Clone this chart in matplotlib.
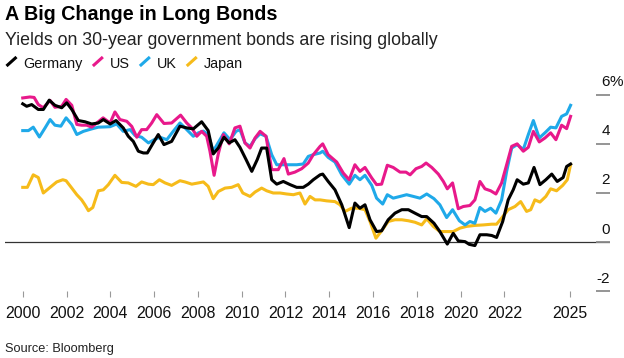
import matplotlib
matplotlib.use('Agg')
import matplotlib.pyplot as plt
from matplotlib.lines import Line2D

plt.rcParams['font.family'] = ['Liberation Sans', 'DejaVu Sans']

# ---------- data (30-year government bond yields, %)
names = ['Germany', 'US', 'UK', 'Japan']
colors = ['#000000', '#e8198b', '#1fa9e9', '#f6bb1a']

germany_t = [2000.00, 2000.18, 2000.41, 2000.71, 2000.94, 2001.21, 2001.47, 2001.78, 2002.01, 2002.24,
             2002.54, 2002.84, 2003.15, 2003.45, 2003.68, 2003.99, 2004.26, 2004.59, 2004.82, 2005.05,
             2005.28, 2005.51, 2005.69, 2005.96, 2006.19, 2006.45, 2006.80, 2007.18, 2007.49, 2007.79,
             2008.17, 2008.47, 2008.70, 2008.93, 2009.19, 2009.43, 2009.69, 2009.92, 2010.20, 2010.46,
             2010.71, 2010.91, 2011.14, 2011.37, 2011.60, 2011.90, 2012.21, 2012.51, 2012.81, 2013.04,
             2013.27, 2013.58, 2013.70, 2013.95, 2014.26, 2014.57, 2014.91, 2015.17, 2015.40, 2015.63,
             2015.86, 2016.16, 2016.39, 2016.69, 2017.00, 2017.31, 2017.61, 2017.91, 2018.22, 2018.45,
             2018.78, 2019.05, 2019.39, 2019.66, 2019.89, 2020.20, 2020.39, 2020.65, 2020.88, 2021.19,
             2021.42, 2021.64, 2021.92, 2022.17, 2022.40, 2022.58, 2022.86, 2023.09, 2023.35, 2023.62,
             2023.89, 2024.16, 2024.41, 2024.68, 2024.84, 2025.02]
germany_v = [5.62, 5.52, 5.59, 5.39, 5.39, 5.77, 5.56, 5.46, 5.66, 5.39,
             4.94, 4.89, 4.80, 4.84, 4.98, 4.80, 4.94, 4.64, 4.30, 4.09,
             3.69, 3.62, 3.62, 4.03, 4.37, 3.96, 4.09, 4.71, 4.64, 4.60,
             4.89, 4.53, 3.58, 3.82, 4.26, 4.03, 4.16, 3.85, 3.35, 2.87,
             3.35, 3.82, 3.82, 2.53, 2.35, 2.46, 2.33, 2.22, 2.22, 2.35,
             2.53, 2.73, 2.76, 2.46, 2.12, 1.51, 0.58, 1.58, 1.37, 1.51,
             0.90, 0.42, 0.45, 0.90, 1.17, 1.31, 1.31, 1.17, 1.03, 1.03,
             0.76, 0.42, -0.09, 0.35, 0.04, 0.01, -0.10, -0.15, 0.29, 0.29,
             0.26, 0.18, 0.83, 1.71, 2.12, 2.53, 2.35, 2.40, 3.03, 2.33,
             2.53, 2.76, 2.46, 2.62, 3.07, 3.17]

us_t = [2000.00, 2000.33, 2000.52, 2000.71, 2000.94, 2001.25, 2001.47, 2001.78, 2001.98, 2002.24,
        2002.47, 2002.69, 2002.92, 2003.15, 2003.38, 2003.67, 2003.99, 2004.21, 2004.44, 2004.75,
        2004.98, 2005.21, 2005.43, 2005.66, 2005.89, 2006.12, 2006.45, 2006.80, 2007.21, 2007.49,
        2007.72, 2007.95, 2008.17, 2008.40, 2008.55, 2008.74, 2008.93, 2009.16, 2009.43, 2009.69,
        2009.92, 2010.15, 2010.38, 2010.61, 2010.84, 2011.11, 2011.37, 2011.67, 2011.93, 2012.13,
        2012.43, 2012.74, 2013.04, 2013.27, 2013.58, 2013.70, 2013.95, 2014.34, 2014.64, 2014.91,
        2015.17, 2015.40, 2015.63, 2015.94, 2016.16, 2016.39, 2016.65, 2016.92, 2017.23, 2017.50,
        2017.69, 2017.96, 2018.22, 2018.42, 2018.68, 2018.98, 2019.21, 2019.39, 2019.63, 2019.89,
        2020.12, 2020.42, 2020.65, 2020.88, 2021.11, 2021.37, 2021.61, 2021.87, 2022.10, 2022.33,
        2022.58, 2022.86, 2023.09, 2023.32, 2023.59, 2023.85, 2024.11, 2024.35, 2024.61, 2024.84,
        2025.02]
us_v = [5.86, 5.90, 5.88, 5.59, 5.46, 5.76, 5.48, 5.52, 5.80, 5.56,
        4.78, 4.75, 4.75, 4.67, 4.84, 5.05, 4.84, 5.29, 4.98, 4.91,
        4.70, 4.26, 4.57, 4.57, 4.84, 5.18, 4.82, 4.84, 5.16, 4.84,
        4.64, 4.30, 4.50, 4.30, 3.69, 2.71, 3.58, 4.37, 3.99, 4.64,
        4.71, 4.03, 3.82, 4.23, 4.50, 4.30, 2.94, 2.94, 3.39, 2.76,
        2.84, 2.98, 3.21, 3.55, 3.89, 3.99, 3.55, 3.25, 2.80, 2.53,
        3.14, 2.87, 3.03, 2.60, 2.33, 2.35, 3.12, 3.03, 2.84, 2.84,
        2.73, 2.98, 3.07, 3.21, 3.03, 2.76, 2.46, 2.16, 2.40, 1.35,
        1.44, 1.48, 1.71, 2.46, 2.16, 2.08, 1.95, 2.40, 3.14, 3.89,
        3.99, 3.69, 3.85, 4.50, 4.07, 4.23, 4.44, 4.16, 4.75, 4.61,
        5.11]

uk_t = [2000.00, 2000.26, 2000.48, 2000.76, 2001.02, 2001.25, 2001.47, 2001.74, 2001.98, 2002.24,
        2002.47, 2002.77, 2003.15, 2003.45, 2003.76, 2003.99, 2004.29, 2004.59, 2004.90, 2005.13,
        2005.43, 2005.74, 2006.00, 2006.27, 2006.58, 2006.88, 2007.18, 2007.49, 2007.79, 2008.02,
        2008.25, 2008.47, 2008.70, 2008.98, 2009.19, 2009.47, 2009.74, 2009.92, 2010.15, 2010.38,
        2010.61, 2010.84, 2011.11, 2011.37, 2011.60, 2011.90, 2012.13, 2012.51, 2012.81, 2013.04,
        2013.27, 2013.58, 2013.70, 2013.95, 2014.26, 2014.57, 2014.91, 2015.17, 2015.40, 2015.63,
        2015.94, 2016.16, 2016.44, 2016.65, 2016.92, 2017.23, 2017.53, 2017.84, 2018.14, 2018.45,
        2018.78, 2019.05, 2019.36, 2019.63, 2019.94, 2020.20, 2020.42, 2020.65, 2020.88, 2021.11,
        2021.37, 2021.61, 2021.87, 2022.10, 2022.33, 2022.58, 2022.86, 2023.09, 2023.32, 2023.59,
        2023.85, 2024.11, 2024.35, 2024.61, 2024.84, 2025.02]
uk_v = [4.53, 4.53, 4.67, 4.27, 4.64, 4.98, 4.75, 4.71, 5.05, 4.78,
        4.37, 4.50, 4.60, 4.67, 4.68, 4.69, 4.80, 4.50, 4.57, 4.33,
        4.26, 4.03, 4.16, 4.26, 4.16, 4.51, 4.84, 4.57, 4.30, 4.44,
        4.51, 4.37, 3.69, 4.12, 4.44, 4.16, 4.50, 4.57, 4.03, 3.89,
        4.20, 4.40, 4.30, 3.55, 3.14, 3.14, 3.14, 3.14, 3.17, 3.48,
        3.55, 3.62, 3.69, 3.44, 3.25, 2.73, 2.35, 2.71, 2.53, 2.71,
        2.30, 1.78, 1.54, 1.92, 1.78, 1.85, 1.92, 1.85, 1.78, 1.95,
        1.76, 1.51, 0.99, 1.31, 0.86, 0.69, 0.83, 0.76, 1.40, 1.24,
        1.37, 1.17, 1.71, 2.87, 3.82, 3.96, 3.76, 4.37, 4.94, 4.23,
        4.44, 4.67, 4.64, 5.11, 5.21, 5.56]

japan_t = [2000.00, 2000.21, 2000.48, 2000.71, 2000.94, 2001.21, 2001.55, 2001.83, 2001.98, 2002.24,
           2002.47, 2002.69, 2002.84, 2003.00, 2003.20, 2003.45, 2003.68, 2003.91, 2004.21, 2004.52,
           2004.82, 2005.17, 2005.43, 2005.74, 2005.96, 2006.24, 2006.50, 2006.80, 2007.18, 2007.41,
           2007.72, 2008.02, 2008.25, 2008.47, 2008.70, 2008.93, 2009.24, 2009.54, 2009.84, 2010.05,
           2010.38, 2010.61, 2010.91, 2011.14, 2011.44, 2011.75, 2012.05, 2012.36, 2012.66, 2012.89,
           2013.12, 2013.35, 2013.58, 2013.88, 2014.26, 2014.49, 2014.72, 2015.02, 2015.32, 2015.63,
           2015.86, 2016.13, 2016.39, 2016.69, 2017.00, 2017.31, 2017.61, 2017.91, 2018.22, 2018.45,
           2018.75, 2019.05, 2019.36, 2019.66, 2019.97, 2020.27, 2020.65, 2021.03, 2021.42, 2021.64,
           2021.87, 2022.17, 2022.48, 2022.74, 2023.01, 2023.20, 2023.39, 2023.62, 2023.89, 2024.11,
           2024.38, 2024.66, 2024.87, 2025.02]
japan_v = [2.22, 2.22, 2.73, 2.62, 1.99, 2.19, 2.44, 2.53, 2.49, 2.19,
           1.92, 1.71, 1.51, 1.27, 1.40, 2.08, 2.12, 2.33, 2.71, 2.42,
           2.40, 2.26, 2.44, 2.35, 2.33, 2.53, 2.40, 2.30, 2.49, 2.44,
           2.35, 2.40, 2.44, 2.26, 1.76, 2.05, 2.19, 2.22, 2.33, 1.99,
           1.85, 2.03, 2.19, 2.08, 1.99, 1.99, 1.95, 1.92, 1.99, 1.54,
           1.85, 1.71, 1.71, 1.67, 1.64, 1.51, 1.24, 1.37, 1.37, 1.31,
           0.83, 0.15, 0.45, 0.83, 0.90, 0.90, 0.86, 0.80, 0.69, 0.94,
           0.63, 0.42, 0.42, 0.42, 0.56, 0.63, 0.67, 0.69, 0.72, 0.72,
           0.97, 1.31, 1.44, 1.64, 1.24, 1.31, 1.71, 1.62, 1.85, 2.16,
           2.08, 2.30, 2.53, 3.14]

xtick_years = [2000, 2002, 2004, 2006, 2008, 2010, 2012, 2014, 2016, 2018, 2020, 2022, 2025]
ytick_vals = [-2, 0, 2, 4, 6]

series = [(germany_t, germany_v), (us_t, us_v), (uk_t, uk_v), (japan_t, japan_v)]

# ---------- figure
W, H = 624, 358
fig = plt.figure(figsize=(W / 100, H / 100), dpi=100)
fig.patch.set_facecolor('white')

def fx(px):
    return px / W

def fy(py):
    return 1 - py / H

ax = fig.add_axes([fx(5), fy(291), fx(605), 196.5 / H])
ax.set_xlim(1999.19, 2026.82)
ax.set_ylim(-2, 6)
for s in ax.spines.values():
    s.set_visible(False)

# zero line
ax.axhline(0, color='#333333', lw=0.9, zorder=1)

# lines, Germany on top
for i in reversed(range(len(names))):
    t, v = series[i]
    ax.plot(t, v, color=colors[i], lw=2.2, solid_joinstyle='round', zorder=3 + (3 - i), clip_on=False)

# x axis
ax.set_xticks(xtick_years)
ax.set_xticklabels([str(y) for y in xtick_years])
ax.tick_params(axis='x', direction='out', length=4, width=0.8, color='#999999',
               pad=6.5, labelsize=11.4, labelcolor='#111111')

# y axis: dashes on the right, labels sitting above them
ax.yaxis.tick_right()
ax.set_yticks(ytick_vals)
ax.tick_params(axis='y', direction='in', length=10, width=1.3, color='#8c8c8c',
               labelright=False, labelleft=False, right=True, left=False)
for v in ytick_vals:
    ax.annotate(str(v), xy=(1, v), xycoords=('axes fraction', 'data'), xytext=(0, 6),
                textcoords='offset points', ha='right', va='baseline', fontsize=11, color='#111111')
ax.annotate('%', xy=(1, ytick_vals[-1]), xycoords=('axes fraction', 'data'), xytext=(0, 6),
            textcoords='offset points', ha='left', va='baseline', fontsize=11, color='#111111')

# titles
fig.text(fx(5), fy(20), 'A Big Change in Long Bonds', fontsize=14.2, fontweight='bold',
         ha='left', va='baseline', color='#000000')
fig.text(fx(5), fy(45), 'Yields on 30-year government bonds are rising globally', fontsize=12.8,
         ha='left', va='baseline', color='#222222')
fig.text(fx(5), fy(352), 'Source: Bloomberg', fontsize=9.2, ha='left', va='baseline', color='#222222')

# legend
renderer = fig.canvas.get_renderer()
x = 6.5
for name, c in zip(names, colors):
    fig.add_artist(Line2D([fx(x), fx(x + 10)], [fy(66), fy(57)], color=c, lw=2.2,
                          solid_capstyle='butt'))
    t = fig.text(fx(x + 17), fy(68), name, fontsize=10.4, ha='left', va='baseline', color='#111111')
    bb = t.get_window_extent(renderer)
    x = bb.x1 + 10

fig.savefig('out.png', dpi=100)
